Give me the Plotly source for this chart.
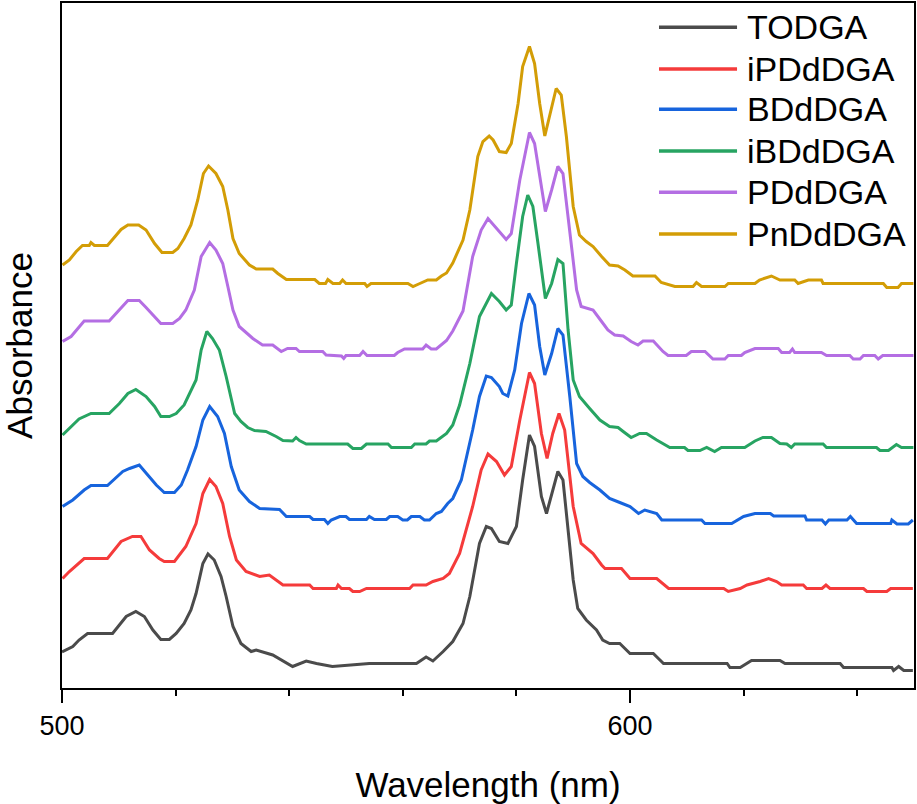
import plotly.graph_objects as go

# stacked Nd(III) absorption spectra, offsets already included
todga_nm = [500.0, 501.9, 503.0, 504.5, 508.9, 511.3, 513.0, 514.5, 516.0, 517.4, 518.9, 520.1, 521.5, 522.7,
            523.6, 524.8, 525.7, 526.8, 528.0, 528.9, 530.1, 531.5, 533.3, 534.2, 537.1, 540.6, 543.0, 544.8,
            547.6, 554.1, 562.4, 564.1, 565.3, 567.1, 568.8, 570.6, 571.8, 573.5, 574.7, 575.6, 577.0, 578.5,
            580.0, 581.1, 582.3, 583.2, 584.4, 585.3, 587.3, 588.2, 589.1, 590.0, 590.8, 592.3, 594.1, 595.2,
            596.4, 598.2, 600.0, 604.1, 605.9, 617.1, 617.6, 619.4, 621.4, 626.4, 627.3, 637.0, 637.6, 646.1,
            646.4, 647.3, 648.2, 649.8]
todga_abs = [0.072, 0.083, 0.096, 0.109, 0.109, 0.143, 0.153, 0.143, 0.116, 0.097, 0.097, 0.109, 0.129, 0.156,
             0.189, 0.249, 0.268, 0.256, 0.223, 0.183, 0.123, 0.089, 0.073, 0.076, 0.066, 0.043, 0.054, 0.049,
             0.043, 0.049, 0.049, 0.062, 0.054, 0.073, 0.093, 0.129, 0.183, 0.289, 0.323, 0.319, 0.293, 0.289,
             0.323, 0.416, 0.506, 0.483, 0.383, 0.349, 0.433, 0.416, 0.316, 0.216, 0.159, 0.136, 0.116, 0.096,
             0.089, 0.089, 0.069, 0.069, 0.049, 0.049, 0.041, 0.041, 0.055, 0.055, 0.049, 0.049, 0.041, 0.041,
             0.035, 0.043, 0.035, 0.035]

ipd_nm = [500.1, 501.3, 503.9, 508.0, 510.4, 512.4, 513.9, 515.4, 517.1, 518.0, 519.8, 521.8, 523.6, 524.8,
          526.0, 527.1, 528.3, 529.5, 530.7, 532.4, 534.8, 536.5, 538.9, 543.6, 544.2, 548.3, 548.6, 549.2,
          550.6, 551.2, 552.4, 553.6, 561.2, 561.8, 564.1, 565.3, 567.1, 568.2, 570.0, 572.3, 573.8, 575.0,
          576.5, 577.9, 579.1, 580.6, 582.3, 583.2, 584.4, 585.4, 586.4, 587.5, 588.5, 590.0, 591.4, 593.5,
          595.0, 595.6, 598.5, 600.0, 604.7, 606.8, 616.5, 617.3, 619.4, 620.6, 622.9, 624.4, 625.8, 626.7,
          630.5, 631.1, 633.8, 634.5, 635.2, 641.1, 641.7, 645.2, 645.9, 649.8]
ipd_abs = [0.219, 0.233, 0.259, 0.259, 0.293, 0.303, 0.303, 0.276, 0.259, 0.253, 0.253, 0.283, 0.329, 0.389,
           0.417, 0.403, 0.369, 0.303, 0.256, 0.233, 0.223, 0.226, 0.206, 0.206, 0.199, 0.199, 0.206, 0.199,
           0.199, 0.193, 0.193, 0.199, 0.199, 0.206, 0.206, 0.213, 0.219, 0.229, 0.269, 0.363, 0.436, 0.468,
           0.453, 0.426, 0.443, 0.536, 0.631, 0.609, 0.509, 0.459, 0.509, 0.549, 0.516, 0.363, 0.289, 0.269,
           0.246, 0.239, 0.239, 0.219, 0.219, 0.199, 0.199, 0.193, 0.199, 0.206, 0.213, 0.219, 0.213, 0.206,
           0.206, 0.199, 0.199, 0.206, 0.199, 0.199, 0.193, 0.193, 0.199, 0.199]

bd_nm = [500.1, 501.9, 503.9, 505.1, 508.0, 510.7, 511.9, 513.6, 515.1, 516.6, 518.0, 519.8, 521.0, 522.1,
         523.6, 524.8, 526.0, 527.4, 528.6, 529.8, 531.2, 533.0, 534.8, 538.3, 539.5, 543.6, 544.2, 546.2,
         546.8, 547.4, 548.9, 550.0, 550.6, 553.6, 554.1, 555.0, 557.1, 557.7, 559.1, 560.0, 560.8, 561.5,
         563.0, 563.8, 564.7, 565.9, 566.8, 567.9, 568.8, 570.3, 572.3, 573.5, 574.7, 575.6, 577.0, 577.6,
         578.5, 579.7, 580.9, 582.2, 583.2, 584.1, 585.0, 586.2, 587.3, 588.2, 589.4, 590.6, 591.7, 592.9,
         594.7, 596.4, 598.2, 600.0, 601.5, 602.6, 604.7, 605.6, 612.6, 613.2, 617.9, 620.0, 622.0, 624.7,
         625.3, 630.8, 631.1, 633.8, 634.4, 635.0, 638.2, 638.8, 639.9, 645.9, 646.1, 647.0, 649.0, 649.8]
bd_abs = [0.363, 0.376, 0.396, 0.405, 0.405, 0.433, 0.439, 0.446, 0.426, 0.406, 0.391, 0.391, 0.406, 0.436,
          0.483, 0.536, 0.563, 0.543, 0.509, 0.443, 0.396, 0.373, 0.359, 0.357, 0.343, 0.343, 0.337, 0.337,
          0.329, 0.336, 0.343, 0.343, 0.337, 0.337, 0.343, 0.337, 0.337, 0.343, 0.343, 0.336, 0.336, 0.343,
          0.343, 0.336, 0.336, 0.349, 0.353, 0.369, 0.379, 0.416, 0.516, 0.583, 0.624, 0.621, 0.603, 0.589,
          0.584, 0.636, 0.729, 0.789, 0.766, 0.683, 0.626, 0.669, 0.719, 0.706, 0.583, 0.449, 0.423, 0.411,
          0.396, 0.379, 0.371, 0.363, 0.349, 0.356, 0.349, 0.336, 0.336, 0.329, 0.329, 0.343, 0.349, 0.349,
          0.344, 0.344, 0.336, 0.336, 0.328, 0.336, 0.336, 0.343, 0.329, 0.329, 0.336, 0.328, 0.328, 0.336]

ibd_nm = [500.1, 501.3, 503.0, 505.1, 508.3, 510.1, 511.6, 513.0, 514.8, 516.3, 517.4, 518.9, 520.1, 521.5,
          522.7, 523.6, 524.5, 525.5, 526.5, 527.7, 528.9, 530.4, 531.5, 532.7, 533.9, 535.9, 537.7, 538.9,
          540.6, 541.2, 541.8, 543.0, 550.3, 551.2, 552.7, 553.6, 557.4, 558.0, 561.5, 562.1, 564.1, 564.7,
          565.9, 566.8, 567.7, 568.8, 570.0, 571.8, 573.5, 575.6, 577.0, 578.2, 579.1, 580.0, 581.1, 582.0,
          582.9, 583.8, 585.1, 586.2, 587.3, 588.2, 589.1, 590.0, 591.1, 592.9, 594.7, 596.4, 597.9, 598.8,
          600.2, 601.7, 602.9, 604.7, 607.0, 609.6, 610.2, 612.3, 613.5, 614.9, 616.1, 620.2, 622.0, 623.4,
          624.9, 626.4, 627.6, 628.4, 629.0, 634.0, 634.6, 643.4, 644.0, 645.5, 646.9, 647.8, 649.9]
ibd_abs = [0.506, 0.519, 0.538, 0.549, 0.549, 0.569, 0.589, 0.597, 0.583, 0.563, 0.543, 0.543, 0.549, 0.566,
           0.596, 0.616, 0.676, 0.713, 0.699, 0.676, 0.623, 0.549, 0.533, 0.521, 0.515, 0.513, 0.503, 0.495,
           0.494, 0.501, 0.495, 0.488, 0.488, 0.479, 0.479, 0.488, 0.488, 0.481, 0.481, 0.488, 0.488, 0.494,
           0.494, 0.501, 0.509, 0.526, 0.566, 0.649, 0.743, 0.789, 0.773, 0.756, 0.766, 0.849, 0.943, 0.986,
           0.963, 0.889, 0.779, 0.809, 0.857, 0.849, 0.716, 0.616, 0.583, 0.559, 0.536, 0.523, 0.521, 0.513,
           0.501, 0.509, 0.509, 0.496, 0.481, 0.481, 0.475, 0.475, 0.481, 0.473, 0.481, 0.481, 0.494, 0.501,
           0.501, 0.489, 0.488, 0.481, 0.488, 0.488, 0.481, 0.481, 0.475, 0.475, 0.487, 0.481, 0.481]

pd_nm = [500.1, 501.6, 503.9, 508.3, 511.6, 513.6, 514.8, 517.4, 519.5, 520.7, 521.8, 523.3, 524.5, 526.0,
         527.1, 528.3, 529.2, 530.1, 531.2, 533.6, 535.3, 537.1, 538.6, 539.7, 541.2, 541.8, 545.9, 546.5,
         549.2, 549.6, 550.0, 552.4, 553.0, 553.7, 558.5, 559.1, 560.3, 563.5, 564.1, 565.0, 565.9, 566.8,
         567.7, 568.8, 570.6, 572.3, 573.8, 575.0, 576.7, 578.2, 579.1, 580.6, 582.3, 583.2, 584.4, 585.1,
         586.2, 587.3, 588.2, 589.4, 590.6, 591.4, 593.5, 595.0, 596.1, 597.3, 598.8, 600.2, 601.4, 602.3,
         604.1, 605.8, 606.7, 609.9, 610.8, 613.2, 614.6, 616.7, 617.3, 619.6, 620.2, 622.0, 626.1, 626.7,
         628.1, 628.6, 629.0, 633.7, 634.6, 638.7, 639.3, 640.5, 641.1, 643.1, 643.7, 644.5, 649.9]
pd_abs = [0.693, 0.703, 0.734, 0.734, 0.775, 0.775, 0.761, 0.729, 0.729, 0.739, 0.756, 0.796, 0.863, 0.891,
          0.876, 0.849, 0.803, 0.756, 0.723, 0.699, 0.686, 0.686, 0.673, 0.679, 0.679, 0.673, 0.673, 0.666,
          0.664, 0.659, 0.665, 0.665, 0.673, 0.665, 0.665, 0.671, 0.678, 0.678, 0.686, 0.678, 0.678, 0.686,
          0.695, 0.714, 0.754, 0.863, 0.916, 0.939, 0.916, 0.897, 0.909, 1.016, 1.111, 1.089, 1.003, 0.953,
          0.996, 1.043, 1.029, 0.916, 0.796, 0.763, 0.756, 0.733, 0.716, 0.706, 0.704, 0.693, 0.686, 0.694,
          0.694, 0.673, 0.665, 0.665, 0.673, 0.673, 0.658, 0.658, 0.665, 0.665, 0.671, 0.679, 0.679, 0.671,
          0.671, 0.678, 0.671, 0.671, 0.665, 0.665, 0.658, 0.658, 0.665, 0.665, 0.658, 0.665, 0.665]

pnd_nm = [500.1, 501.3, 502.5, 503.6, 504.8, 505.1, 505.7, 508.0, 510.4, 511.6, 513.5, 514.8, 516.3, 517.6,
          519.5, 520.4, 521.5, 522.7, 523.9, 524.9, 525.8, 527.1, 528.3, 529.2, 530.1, 531.2, 533.0, 534.2,
          537.1, 538.0, 539.5, 544.5, 545.3, 546.4, 546.8, 547.7, 548.9, 549.4, 550.0, 553.3, 553.7, 554.4,
          560.9, 561.8, 563.0, 564.4, 565.9, 566.8, 567.7, 568.8, 570.6, 571.8, 573.2, 574.1, 575.2, 575.9,
          577.0, 578.2, 579.1, 580.3, 581.1, 582.3, 583.2, 584.1, 585.0, 586.2, 587.0, 587.9, 588.8, 590.0,
          591.1, 592.3, 593.5, 595.0, 596.4, 597.9, 599.1, 600.5, 604.4, 605.5, 607.9, 611.1, 611.7, 612.6,
          616.7, 617.3, 622.0, 622.8, 624.9, 626.4, 629.0, 629.6, 631.4, 633.7, 634.0, 644.6, 645.2, 647.2,
          647.8, 649.9]
pnd_abs = [0.846, 0.856, 0.873, 0.885, 0.885, 0.891, 0.885, 0.885, 0.917, 0.926, 0.926, 0.916, 0.889, 0.871,
           0.871, 0.879, 0.899, 0.926, 0.976, 1.029, 1.044, 1.029, 1.003, 0.956, 0.899, 0.869, 0.846, 0.838,
           0.838, 0.829, 0.817, 0.817, 0.809, 0.809, 0.817, 0.809, 0.809, 0.816, 0.809, 0.809, 0.803, 0.809,
           0.809, 0.803, 0.809, 0.816, 0.816, 0.824, 0.830, 0.850, 0.896, 0.956, 1.063, 1.093, 1.104, 1.096,
           1.073, 1.071, 1.089, 1.169, 1.243, 1.283, 1.249, 1.169, 1.104, 1.163, 1.199, 1.186, 1.103, 0.963,
           0.906, 0.893, 0.883, 0.863, 0.846, 0.844, 0.836, 0.824, 0.824, 0.811, 0.803, 0.803, 0.811, 0.803,
           0.803, 0.809, 0.809, 0.816, 0.824, 0.816, 0.816, 0.809, 0.816, 0.816, 0.809, 0.809, 0.801, 0.801,
           0.809, 0.809]

names = ['TODGA', 'iPDdDGA', 'BDdDGA', 'iBDdDGA', 'PDdDGA', 'PnDdDGA']
colors = ['#4b4b4b', '#f53b3b', '#1764dd', '#27a462', '#b46ee3', '#d39d06']
series = [(todga_nm, todga_abs), (ipd_nm, ipd_abs), (bd_nm, bd_abs),
          (ibd_nm, ibd_abs), (pd_nm, pd_abs), (pnd_nm, pnd_abs)]

font_family = 'Arial, Liberation Sans, sans-serif'

fig = go.Figure()
for name, color, (wl, ab) in zip(names, colors, series):
    fig.add_trace(go.Scatter(x=wl, y=ab, mode='lines', name=name, showlegend=False,
                             line=dict(color=color, width=3)))

# legend drawn by hand so the keys can be long and the rows tight, like the original
legend_y = [0.9645, 0.9036, 0.8448, 0.7839, 0.7236, 0.6628]
for name, color, ly in zip(names, colors, legend_y):
    fig.add_shape(type='line', xref='paper', yref='paper', x0=0.7007, x1=0.7923, y0=ly, y1=ly,
                  line=dict(color=color, width=3.5))
    fig.add_annotation(text=name, xref='paper', yref='paper', x=0.8016, y=ly,
                       xanchor='left', yanchor='middle', showarrow=False,
                       font=dict(size=34, family=font_family, color='black'))

fig.update_layout(
    width=917, height=804,
    margin=dict(l=62, r=3, t=3, b=116),
    paper_bgcolor='white', plot_bgcolor='white',
    font=dict(family=font_family, color='black'),
    xaxis=dict(
        range=[500, 650], dtick=100, tick0=500, automargin=False,
        showline=True, linecolor='black', linewidth=2, mirror=True,
        ticks='outside', ticklen=13, tickwidth=2, tickcolor='black',
        minor=dict(dtick=20, ticks='outside', ticklen=6, tickwidth=2, tickcolor='black'),
        tickfont=dict(size=27), showgrid=False, zeroline=False,
        title=dict(text='Wavelength (nm)', font=dict(size=35), standoff=33),
    ),
    yaxis=dict(
        range=[0, 1.37], showticklabels=False, ticks='', automargin=False,
        showline=True, linecolor='black', linewidth=2, mirror=True,
        showgrid=False, zeroline=False,
        title=dict(text='Absorbance', font=dict(size=35), standoff=29),
    ),
)

# page body margin would shift the 917x804 figure inside the window
fig.write_html('out.html', config={'displayModeBar': False},
               post_script="document.body.style.margin='0px';")
